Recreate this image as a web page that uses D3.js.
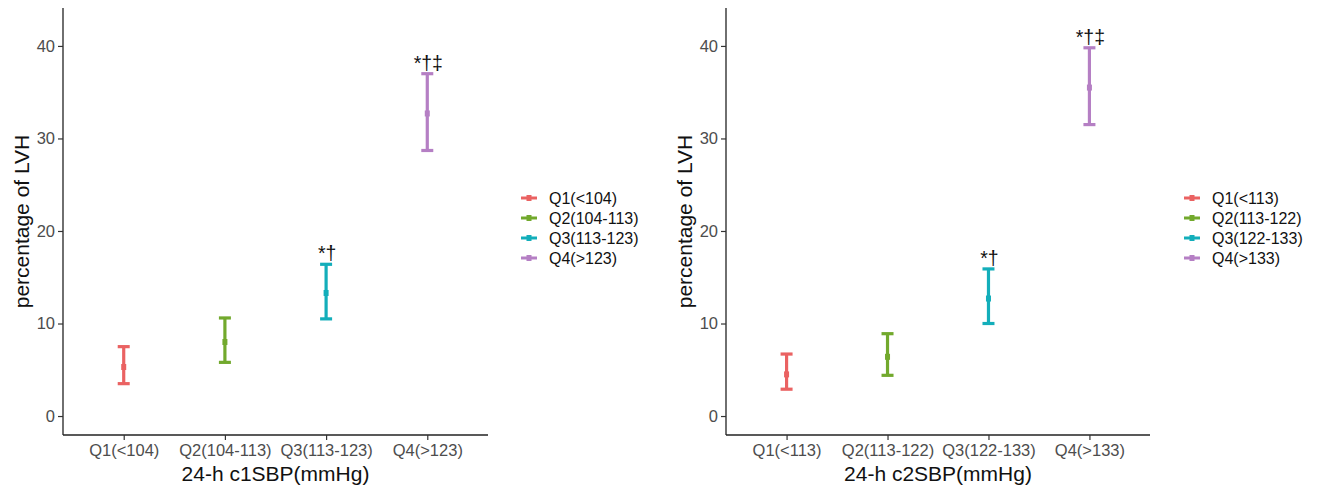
<!DOCTYPE html>
<html>
<head>
<meta charset="utf-8">
<script src="https://cdn.jsdelivr.net/npm/d3@7"></script>
<style>
  body { margin: 0; background: #fff; }
  svg { display: block; font-family: "Liberation Sans", Arial, sans-serif; }
</style>
</head>
<body>
<svg id="chart" width="1318" height="488"></svg>
<script>
// --- data ---
const groupColors = ["#EA6262", "#72A92D", "#13AEBA", "#B57FC4"];
const yTicks = [0, 10, 20, 30, 40];

const leftLabels = ["Q1(<104)", "Q2(104-113)", "Q3(113-123)", "Q4(>123)"];
const leftMean = [5.3, 8.0, 13.3, 32.7];
const leftLower = [3.5, 5.8, 10.5, 28.7];
const leftUpper = [7.5, 10.6, 16.4, 37.0];
const leftMarks = ["", "", "*†", "*†‡"];

const rightLabels = ["Q1(<113)", "Q2(113-122)", "Q3(122-133)", "Q4(>133)"];
const rightMean = [4.5, 6.4, 12.7, 35.5];
const rightLower = [2.9, 4.4, 10.0, 31.5];
const rightUpper = [6.7, 8.9, 15.9, 39.8];
const rightMarks = ["", "", "*†", "*†‡"];

const svg = d3.select("#chart");

// draws one panel (axes, error bars, marks, legend)
function drawPanel(opts) {
    const { x0, x1, labels, mean, lower, upper, marks, title, legendX } = opts;
    const top = 8, bottom = 435;

    const rows = labels.map((l, i) => ({ label: l, mean: mean[i], lo: lower[i], hi: upper[i], mark: marks[i], color: groupColors[i] }));

    const x = d3.scalePoint().domain(labels).range([x0, x1]).padding(0.6);
    const y = d3.scaleLinear().domain([-2.05, 44.1]).range([bottom, top]);

    const g = svg.append("g");

    // axes
    const yAxis = g.append("g")
        .attr("transform", `translate(${x0},0)`)
        .call(d3.axisLeft(y).tickValues(yTicks).tickSize(5).tickPadding(3));
    const xAxis = g.append("g")
        .attr("transform", `translate(0,${bottom})`)
        .call(d3.axisBottom(x).tickSize(5).tickPadding(4));
    [yAxis, xAxis].forEach(a => {
        a.select(".domain").attr("stroke", "#222").attr("stroke-width", 1.3);
        a.selectAll(".tick line").attr("stroke", "#333").attr("stroke-width", 1.2);
        a.selectAll(".tick text").attr("fill", "#4D4D4D").style("font-size", "16.5px");
    });
    xAxis.select(".domain").attr("d", `M${x0},0H${x1}`);
    yAxis.select(".domain").attr("d", `M0,${top}V${bottom}`);

    // axis titles
    g.append("text")
        .attr("x", (x0 + x1) / 2).attr("y", 481)
        .attr("text-anchor", "middle")
        .style("font-size", "21px").attr("fill", "#111")
        .text(title);
    g.append("text")
        .attr("transform", `translate(${x0 - 34},${(top + bottom) / 2}) rotate(-90)`)
        .attr("text-anchor", "middle")
        .style("font-size", "21px").attr("fill", "#111")
        .text("percentage of LVH");

    // error bars
    const bars = g.selectAll(".bar").data(rows).join("g").attr("class", "bar");
    bars.append("line")
        .attr("x1", d => x(d.label)).attr("x2", d => x(d.label))
        .attr("y1", d => y(d.lo)).attr("y2", d => y(d.hi))
        .attr("stroke", d => d.color).attr("stroke-width", 3.2);
    bars.selectAll(".cap").data(d => [[d, d.lo], [d, d.hi]]).join("line")
        .attr("x1", d => x(d[0].label) - 6).attr("x2", d => x(d[0].label) + 6)
        .attr("y1", d => y(d[1])).attr("y2", d => y(d[1]))
        .attr("stroke", d => d[0].color).attr("stroke-width", 3.2);
    bars.append("rect")
        .attr("x", d => x(d.label) - 2.5).attr("y", d => y(d.mean) - 3)
        .attr("width", 5).attr("height", 6)
        .attr("fill", d => d.color);

    // significance marks
    g.selectAll(".mark").data(rows.filter(d => d.mark)).join("text")
        .attr("x", d => x(d.label) + 1)
        .attr("y", d => y(d.hi) - 4)
        .attr("text-anchor", "middle")
        .style("font-size", "19.5px").attr("fill", "#111")
        .text(d => d.mark);

    // legend
    const leg = g.append("g").attr("transform", `translate(${legendX},198)`);
    const item = leg.selectAll("g").data(rows).join("g")
        .attr("transform", (d, i) => `translate(0,${i * 20})`);
    item.append("line")
        .attr("x1", 0).attr("x2", 16)
        .attr("stroke", d => d.color).attr("stroke-width", 3);
    item.append("rect")
        .attr("x", 5.5).attr("y", -3).attr("width", 5).attr("height", 6)
        .attr("fill", d => d.color);
    item.append("text")
        .attr("x", 28).attr("dy", "0.35em")
        .style("font-size", "16px").attr("fill", "#111")
        .text(d => d.label);
}

drawPanel({ x0: 63, x1: 488, labels: leftLabels, mean: leftMean, lower: leftLower, upper: leftUpper,
    marks: leftMarks, title: "24-h c1SBP(mmHg)", legendX: 521 });
drawPanel({ x0: 726, x1: 1150, labels: rightLabels, mean: rightMean, lower: rightLower, upper: rightUpper,
    marks: rightMarks, title: "24-h c2SBP(mmHg)", legendX: 1184 });
</script>
</body>
</html>
